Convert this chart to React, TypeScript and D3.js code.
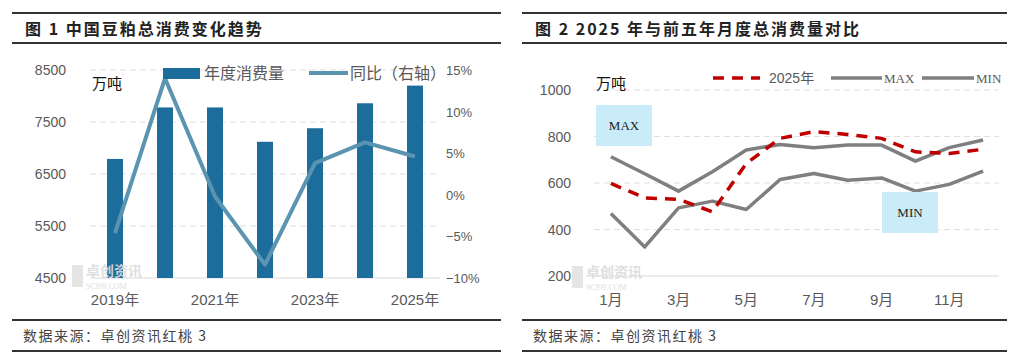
import React, { useEffect, useRef } from 'react';
import * as d3 from 'd3';

const years = ['2019年', '2020年', '2021年', '2022年', '2023年', '2024年', '2025年'];
const yearLabels = ['2019年', '2021年', '2023年', '2025年'];
const consumption = [6790, 7780, 7780, 7120, 7380, 7860, 8200];
const yoy = [-4.6, 14.0, -0.2, -8.4, 3.8, 6.3, 4.6];
const leftTicks = [4500, 5500, 6500, 7500, 8500];
const rightTicks = [-10, -5, 0, 5, 10, 15];

const months = ['1月', '2月', '3月', '4月', '5月', '6月', '7月', '8月', '9月', '10月', '11月', '12月'];
const monthLabels = ['1月', '3月', '5月', '7月', '9月', '11月'];
const series2025 = [598, 536, 530, 476, 684, 792, 821, 809, 792, 734, 727, 745];
const seriesMax = [713, 640, 565, 648, 742, 766, 752, 763, 763, 694, 752, 785];
const seriesMin = [469, 325, 493, 522, 486, 615, 641, 612, 622, 565, 594, 651];
const monthTicks = [200, 400, 600, 800, 1000];

const CJK = '"Noto Sans CJK SC", "Noto Sans", sans-serif';
const NUM = '"Liberation Sans", Arial, "Noto Sans CJK SC", sans-serif';
const SERIF = '"Liberation Serif", "DejaVu Serif", serif';

const App: React.FC = () => {
  const svgRef = useRef<SVGSVGElement>(null);

  useEffect(() => {
    if (!svgRef.current) return;
    const svg = d3.select(svgRef.current);
    svg.selectAll('*').remove();

    // frame: title bars and footers
    const frame = (x0: number, x1: number, title: string) => {
      const g = svg.append('g');
      [13, 43, 320, 351].forEach(y => {
        g.append('line').attr('x1', x0).attr('x2', x1).attr('y1', y).attr('y2', y)
          .attr('stroke', '#333').attr('stroke-width', 2);
      });
      g.append('text').attr('x', x0 + 13).attr('y', 35).text(title)
        .attr('font-family', CJK).attr('font-weight', 700).attr('font-size', 16)
        .attr('letter-spacing', 2).attr('fill', '#222');
      g.append('text').attr('x', x0 + 11).attr('y', 341).text('数据来源：卓创资讯红桃 3')
        .attr('font-family', CJK).attr('font-size', 14).attr('letter-spacing', 1.5).attr('fill', '#444');
    };
    frame(12, 501, '图 1 中国豆粕总消费变化趋势');
    frame(522, 1007, '图 2 2025 年与前五年月度总消费量对比');

    const watermark = (x: number, y: number) => {
      const g = svg.append('g').attr('opacity', 0.9);
      g.append('rect').attr('x', x).attr('y', y - 13).attr('width', 11).attr('height', 22).attr('fill', '#e3e3e3');
      g.append('text').attr('x', x + 14).attr('y', y - 2).text('卓创资讯')
        .attr('font-family', CJK).attr('font-size', 14).attr('font-weight', 700).attr('fill', '#dcdcdc');
      g.append('text').attr('x', x + 14).attr('y', y + 11).text('SCI99.COM')
        .attr('font-family', SERIF).attr('font-size', 8).attr('fill', '#dcdcdc');
    };

    // ---- left chart ----
    const x = d3.scaleBand().domain(years).range([90, 440]).paddingInner(0.68).paddingOuter(0.34);
    const yL = d3.scaleLinear().domain([4500, 8500]).range([278, 70]);
    const yR = d3.scaleLinear().domain([-10, 15]).range([278, 70]);
    const left = svg.append('g');

    watermark(72, 278);

    leftTicks.forEach(t => {
      left.append('line').attr('x1', 90).attr('x2', 440).attr('y1', yL(t)).attr('y2', yL(t))
        .attr('stroke', t === 4500 ? '#d9d9d9' : '#e0e0e0')
        .attr('stroke-dasharray', t === 4500 ? null : '6,4');
      left.append('text').attr('x', 66).attr('y', yL(t) + 5).attr('text-anchor', 'end')
        .text(t).attr('font-family', NUM).attr('font-size', 14).attr('fill', '#595959');
    });
    rightTicks.forEach(t => {
      left.append('text').attr('x', 446).attr('y', yR(t) + 5)
        .text(`${t < 0 ? '−' : ''}${Math.abs(t)}%`).attr('font-family', NUM).attr('font-size', 13).attr('fill', '#595959');
    });

    left.selectAll('rect.bar').data(consumption).join('rect').attr('class', 'bar')
      .attr('x', (d, i) => x(years[i])!)
      .attr('width', x.bandwidth())
      .attr('y', d => yL(d))
      .attr('height', d => yL(4500) - yL(d))
      .attr('fill', '#1c6c9c');

    const yoyLine = d3.line<number>()
      .x((d, i) => x(years[i])! + x.bandwidth() / 2)
      .y(d => yR(d));
    left.append('path').attr('d', yoyLine(yoy)).attr('fill', 'none')
      .attr('stroke', '#5b94b0').attr('stroke-width', 4).attr('stroke-linejoin', 'round');

    yearLabels.forEach(l => {
      left.append('text').attr('x', x(l)! + x.bandwidth() / 2).attr('y', 305).attr('text-anchor', 'middle')
        .text(l).attr('font-family', NUM).attr('font-size', 15).attr('fill', '#595959');
    });

    left.append('text').attr('x', 92).attr('y', 89).text('万吨')
      .attr('font-family', CJK).attr('font-size', 15).attr('fill', '#111');

    // legend
    left.append('rect').attr('x', 163).attr('y', 68).attr('width', 37).attr('height', 11).attr('fill', '#1c6c9c');
    left.append('text').attr('x', 204).attr('y', 79).text('年度消费量')
      .attr('font-family', CJK).attr('font-size', 16).attr('fill', '#595959');
    left.append('line').attr('x1', 309).attr('x2', 348).attr('y1', 73).attr('y2', 73)
      .attr('stroke', '#5b94b0').attr('stroke-width', 4);
    left.append('text').attr('x', 350).attr('y', 79).text('同比（右轴）')
      .attr('font-family', CJK).attr('font-size', 16).attr('fill', '#595959');

    // ---- right chart ----
    const xm = d3.scaleBand().domain(months).range([594, 1000]);
    const ym = d3.scaleLinear().domain([200, 1000]).range([276, 90]);
    const right = svg.append('g');

    watermark(572, 279);

    monthTicks.forEach(t => {
      right.append('line').attr('x1', 594).attr('x2', 999).attr('y1', ym(t)).attr('y2', ym(t))
        .attr('stroke', t === 200 ? '#d9d9d9' : '#e0e0e0')
        .attr('stroke-dasharray', t === 200 ? null : '6,4');
      right.append('text').attr('x', 571).attr('y', ym(t) + 5).attr('text-anchor', 'end')
        .text(t).attr('font-family', NUM).attr('font-size', 14).attr('fill', '#595959');
    });
    monthLabels.forEach(l => {
      right.append('text').attr('x', xm(l)! + xm.bandwidth() / 2).attr('y', 305).attr('text-anchor', 'middle')
        .text(l).attr('font-family', NUM).attr('font-size', 15).attr('fill', '#595959');
    });

    const mLine = d3.line<number>()
      .x((d, i) => xm(months[i])! + xm.bandwidth() / 2)
      .y(d => ym(d));
    [seriesMax, seriesMin].forEach(s => {
      right.append('path').attr('d', mLine(s)).attr('fill', 'none')
        .attr('stroke', '#7f7f7f').attr('stroke-width', 3.5).attr('stroke-linejoin', 'round');
    });
    right.append('path').attr('d', mLine(series2025)).attr('fill', 'none')
      .attr('stroke', '#c00000').attr('stroke-width', 3.5).attr('stroke-dasharray', '11,8');

    right.append('text').attr('x', 596).attr('y', 89).text('万吨')
      .attr('font-family', CJK).attr('font-size', 15).attr('fill', '#111');

    // annotation boxes
    const box = (bx: number, by: number, label: string) => {
      right.append('rect').attr('x', bx).attr('y', by).attr('width', 56).attr('height', 41).attr('fill', '#c9ecf8');
      right.append('text').attr('x', bx + 28).attr('y', by + 25).attr('text-anchor', 'middle').text(label)
        .attr('font-family', SERIF).attr('font-size', 13).attr('fill', '#222');
    };
    box(596, 105, 'MAX');
    box(882, 192, 'MIN');

    // legend
    right.append('line').attr('x1', 713).attr('x2', 760).attr('y1', 78).attr('y2', 78)
      .attr('stroke', '#c00000').attr('stroke-width', 3.5).attr('stroke-dasharray', '11,8');
    right.append('text').attr('x', 769).attr('y', 83).text('2025年')
      .attr('font-family', NUM).attr('font-size', 14).attr('fill', '#595959');
    [[831, 882, 'MAX'], [922, 974, 'MIN']].forEach(([a, b, l]) => {
      right.append('line').attr('x1', a as number).attr('x2', b as number).attr('y1', 78).attr('y2', 78)
        .attr('stroke', '#7f7f7f').attr('stroke-width', 3.5);
      right.append('text').attr('x', (b as number) + 2).attr('y', 83).text(l as string)
        .attr('font-family', SERIF).attr('font-size', 13).attr('fill', '#595959');
    });
  }, []);

  return (
    <svg ref={svgRef} width={1018} height={362}
      style={{ position: 'absolute', left: 0, top: 0, background: '#fff' }} />
  );
};

export default App;
